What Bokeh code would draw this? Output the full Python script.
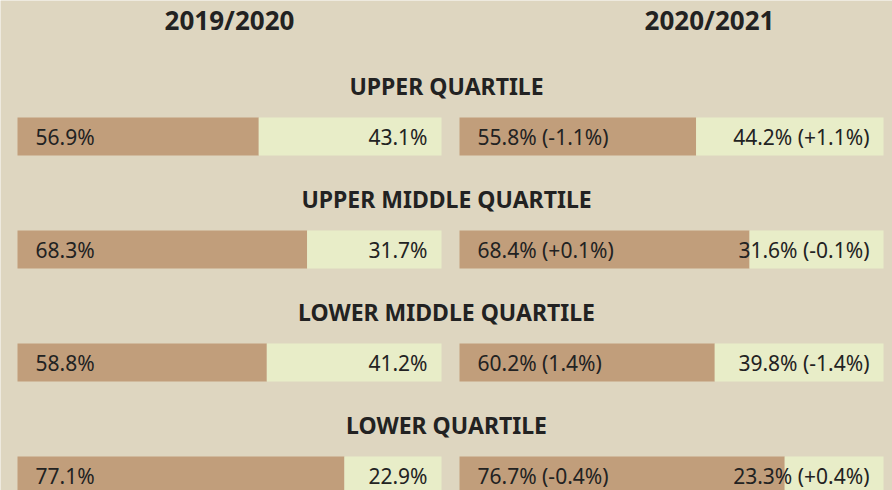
from bokeh.plotting import figure
from bokeh.models import Range1d
from bokeh.core.properties import value
from bokeh.embed import file_html
from bokeh.resources import INLINE

quartiles = ["UPPER QUARTILE", "UPPER MIDDLE QUARTILE", "LOWER MIDDLE QUARTILE", "LOWER QUARTILE"]
years = ["2019/2020", "2020/2021"]
men_1920 = [56.9, 68.3, 58.8, 77.1]
women_1920 = [43.1, 31.7, 41.2, 22.9]
men_2021 = [55.8, 68.4, 60.2, 76.7]
women_2021 = [44.2, 31.6, 39.8, 23.3]
men_change = ["(-1.1%)", "(+0.1%)", "(1.4%)", "(-0.4%)"]
women_change = ["(+1.1%)", "(-0.1%)", "(-1.4%)", "(+0.4%)"]

BG = "#ded6c0"
BROWN = "#c19e7b"
LIGHT = "#e8edc8"
INK = "#222222"
FONT = "Noto Sans"

PX = 4.24  # pixels per percentage unit
offsets = [0.0, 442.0 / PX]  # panel starts
gap_px = 17.0

p = figure(width=892, height=490, output_backend="svg", toolbar_location=None,
           x_range=Range1d(-gap_px / PX, -gap_px / PX + 892 / PX),
           y_range=Range1d((490 - 136) / 113.0, -136 / 113.0),
           min_border=0)
p.axis.visible = False
p.grid.visible = False
p.outline_line_color = None
p.background_fill_color = BG
p.border_fill_color = BG

H = 38 / 113.0
rows = list(range(len(quartiles)))

panels = [(men_1920, women_1920, None, None), (men_2021, women_2021, men_change, women_change)]
for k, (men, women, mc, wc) in enumerate(panels):
    off = offsets[k]
    left0 = [off] * len(rows)
    mid = [off + m for m in men]
    right = [off + 100] * len(rows)
    p.hbar(y=rows, left=left0, right=mid, height=H, color=BROWN, line_color=None)
    p.hbar(y=rows, left=mid, right=right, height=H, color=LIGHT, line_color=None)
    if mc is None:
        ltxt = [f"{m}%" for m in men]
        rtxt = [f"{w}%" for w in women]
    else:
        ltxt = [f"{m}% {c}" for m, c in zip(men, mc)]
        rtxt = [f"{w}% {c}" for w, c in zip(women, wc)]
    p.text(x=[off + 18 / PX] * len(rows), y=rows, text=ltxt, text_font=value(FONT),
           text_font_size="21px", text_color=INK, text_align="left", text_baseline="middle")
    p.text(x=[off + 100 - 14 / PX] * len(rows), y=rows, text=rtxt, text_font=value(FONT),
           text_font_size="21px", text_color=INK, text_align="right", text_baseline="middle")

center_x = (-gap_px / PX + (-gap_px / PX + 892 / PX)) / 2
p.text(x=[center_x] * len(rows), y=[r - 0.45 for r in rows], text=quartiles,
       text_font=value(FONT), text_font_size="23px", text_font_style="bold",
       text_color=INK, text_align="center", text_baseline="middle")

hx = [50, offsets[1] + (709 - 459) / PX]
p.text(x=hx, y=[-117 / 113.0] * 2, text=years, text_font=value(FONT),
       text_font_size="26px", text_font_style="bold", text_color=INK,
       text_align="center", text_baseline="middle")

open("out.html", "w").write(file_html(p, INLINE))
